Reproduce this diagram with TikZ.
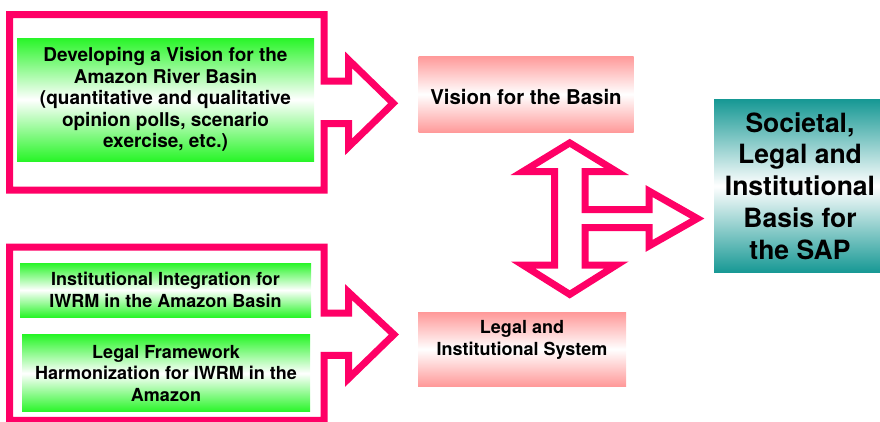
\documentclass[tikz,border=0pt]{standalone}
\usepackage{fontspec}
\setmainfont{TeX Gyre Heros}
\usepackage{tikz}

\definecolor{arrowred}{RGB}{255,0,102}
\definecolor{boxgreen}{RGB}{40,245,40}
\definecolor{boxpink}{RGB}{255,153,153}
\definecolor{boxteal}{RGB}{22,152,148}

\tikzset{
  blockarrow/.style={draw=arrowred, line width=7pt, line join=miter},
  greenbox/.style={top color=boxgreen, bottom color=boxgreen, middle color=white,
    inner sep=0pt, align=center, font=\bfseries\fontsize{18}{21.7}\selectfont},
  pinkbox/.style={top color=boxpink, bottom color=boxpink, middle color=white,
    inner sep=0pt, align=center, font=\bfseries\fontsize{18}{22.4}\selectfont},
  tealbox/.style={top color=boxteal, bottom color=boxteal, middle color=white,
    inner sep=0pt, align=center, font=\bfseries\fontsize{26.5}{31.8}\selectfont}
}

\begin{document}
\begin{tikzpicture}[x=1pt,y=-1pt]
\useasboundingbox (0,0) rectangle (880,421);
	% frame round the vision work, with its arrow
	\draw[blockarrow] (324.2,81) -- (324.2,14.7) -- (9.7,14.7) -- (9.7,190) -- (324.2,190)
	  -- (324.2,123.7) -- (348.5,123.7) -- (348.5,146.9) -- (393.2,103.3) -- (348.5,59.8)
	  -- (348.5,81) -- cycle;
	% frame round the institutional work, with its arrow
	\draw[blockarrow] (324.2,313) -- (324.2,247) -- (9.7,247) -- (9.7,420.3) -- (324.2,420.3)
	  -- (324.2,355.3) -- (348.5,355.3) -- (348.5,378.6) -- (393.9,334.5) -- (348.5,292.1)
	  -- (348.5,313) -- cycle;
	% three-way arrow in the middle
	\draw[blockarrow] (554.5,171.5) -- (523,171.5) -- (569.75,142.9) -- (616.5,171.5)
	  -- (585,171.5) -- (585,209.5) -- (649.1,209.5) -- (649.1,191.1) -- (697.3,218.5)
	  -- (649.1,245.9) -- (649.1,227.5) -- (585,227.5) -- (585,265) -- (616.5,265)
	  -- (569.75,294.4) -- (523,265) -- (554.5,265) -- cycle;
	%
	\node[greenbox, minimum width=297pt, minimum height=123pt,
	  font=\bfseries\fontsize{19}{21.5}\selectfont] (vision work) at (165.5,99.5)
	  {Developing a Vision for the\\Amazon River Basin\\(quantitative and qualitative\\opinion polls, scenario\\exercise, etc.)};
	\node[greenbox, minimum width=291pt, minimum height=54pt] (integration) at (165.5,290)
	  {Institutional Integration for\\IWRM in the Amazon Basin};
	\node[greenbox, minimum width=288pt, minimum height=77pt] (harmonization) at (166,373.3)
	  {Legal Framework\\Harmonization for IWRM in the\\Amazon};
	%
	\node[pinkbox, minimum width=215pt, minimum height=76.5pt, text height=21pt,
	  font=\bfseries\fontsize{20.4}{24}\selectfont] (vision) at (526,94.3)
	  {Vision for the Basin};
	\node[pinkbox, minimum width=208pt, minimum height=74pt, text depth=22.4pt] (legal) at (522,349.2)
	  {Legal and\\Institutional System};
	%
	\node[tealbox, minimum width=172pt, minimum height=173.4pt] (basis) at (800,186)
	  {Societal,\\Legal and\\Institutional\\Basis for\\the SAP};
\end{tikzpicture}
\end{document}
